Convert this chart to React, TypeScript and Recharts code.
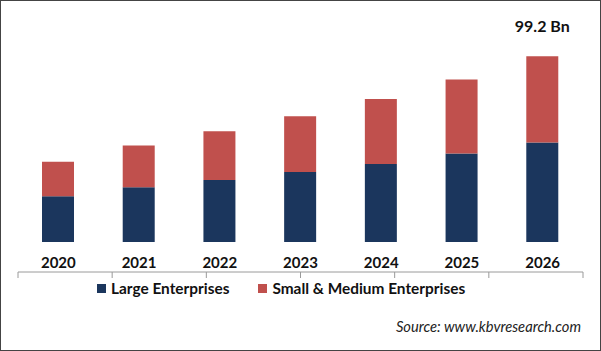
import React from 'react';
import { BarChart, Bar, XAxis, YAxis, Legend, LabelList } from 'recharts';

const years = ['2020', '2021', '2022', '2023', '2024', '2025', '2026'];
const largeEnterprises = [24.4, 29.3, 33.1, 37.4, 41.7, 47.2, 53.1];
const smallMedium = [18.4, 22.2, 26.0, 29.8, 34.7, 39.6, 46.1];
const boundaryTicks = [0, 1, 2, 3, 4, 5, 6, 7];

const BLUE = '#1b365d';
const RED = '#c0504d';
const FONT = 'Lato, "Open Sans", sans-serif';

const data = years.map((year, i) => ({
  year,
  large: largeEnterprises[i],
  sme: smallMedium[i],
  total: +(largeEnterprises[i] + smallMedium[i]).toFixed(1),
}));

const legendItems = [
  { label: 'Large Enterprises', color: BLUE },
  { label: 'Small & Medium Enterprises', color: RED },
];

function LegendContent() {
  return (
    <div style={{ display: 'flex', alignItems: 'center', fontFamily: FONT, fontWeight: 700, fontSize: 15.4, color: '#111' }}>
      {legendItems.map((item, i) => (
        <div key={item.label} style={{ display: 'flex', alignItems: 'center', marginLeft: i === 0 ? 0 : 29 }}>
          <span style={{ width: 9, height: 9, background: item.color, display: 'inline-block', marginRight: 5 }} />
          <span>{item.label}</span>
        </div>
      ))}
    </div>
  );
}

function TotalLabel(props: any) {
  const { x, y, width, index, value } = props;
  if (index !== years.length - 1) return null;
  return (
    <text
      x={x + width / 2}
      y={y - 24}
      textAnchor="middle"
      fontFamily={FONT}
      fontWeight={700}
      fontSize={16}
      fill="#111"
    >
      {`${value} Bn`}
    </text>
  );
}

export default function App() {
  return (
    <div
      style={{
        position: 'absolute',
        left: 0,
        top: 0,
        width: 601,
        height: 351,
        boxSizing: 'border-box',
        border: '1px solid #444',
        background: '#fff',
      }}
    >
      <BarChart
        width={599}
        height={349}
        data={data}
        margin={{ top: 35, right: 17, left: 17, bottom: 59 }}
      >
        <YAxis hide domain={[0, 110]} />
        <XAxis
          xAxisId="bounds"
          type="number"
          domain={[0, 7]}
          ticks={boundaryTicks}
          height={1}
          tickSize={6}
          stroke="#9a9a9a"
          tickFormatter={() => ''}
        />
        <XAxis
          dataKey="year"
          height={30}
          axisLine={false}
          tickLine={false}
          tick={{ fontFamily: FONT, fontWeight: 700, fontSize: 15, fill: '#111' }}
          tickMargin={9}
        />
        <Legend
          verticalAlign="bottom"
          content={<LegendContent />}
          wrapperStyle={{ left: 96, top: 278, width: 'auto' }}
        />
        <Bar dataKey="large" stackId="a" fill={BLUE} barSize={32} isAnimationActive={false} />
        <Bar dataKey="sme" stackId="a" fill={RED} barSize={32} isAnimationActive={false}>
          <LabelList dataKey="total" content={<TotalLabel />} />
        </Bar>
      </BarChart>
      <div
        style={{
          position: 'absolute',
          right: 19,
          top: 316,
          fontFamily: FONT,
          fontStyle: 'italic',
          fontSize: 14.7,
          color: '#222',
        }}
      >
        Source: www.kbvresearch.com
      </div>
    </div>
  );
}
